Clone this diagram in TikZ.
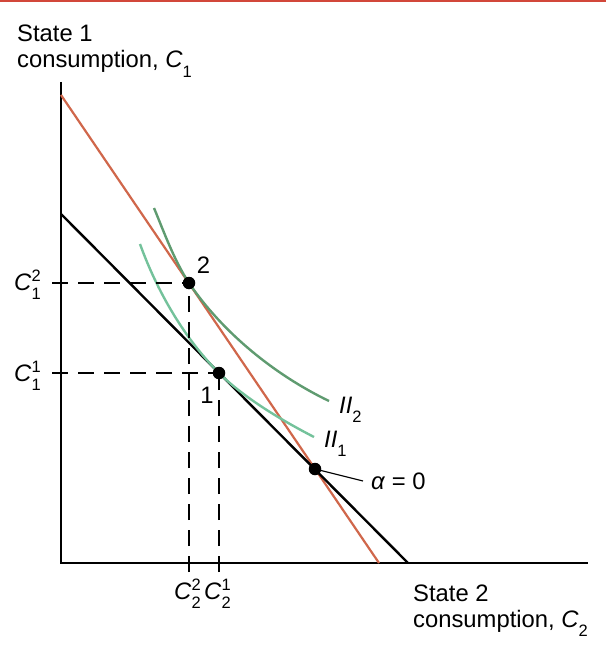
\documentclass[tikz,border=0pt]{standalone}
\usepackage{fontspec}
\setmainfont{Liberation Sans}
\definecolor{budgetred}{HTML}{D0674B}
\definecolor{topred}{HTML}{D2473A}
\definecolor{icdark}{HTML}{5F9B70}
\definecolor{iclight}{HTML}{74C29B}
\newcommand\lblsub[1]{\raisebox{-0.38em}{\fontsize{16.5}{17}\selectfont #1}}
\newcommand\lblsupsub[2]{\rlap{\raisebox{0.36em}{\fontsize{16.5}{17}\selectfont #1}}\raisebox{-0.4em}{\fontsize{16.5}{17}\selectfont #2}}
\tikzset{
  lbl/.style={inner sep=0pt, font=\fontsize{23.8}{27}\selectfont},
  axisline/.style={line width=2.8pt, line join=miter},
  budget/.style={line width=2.4pt},
  guide/.style={line width=1.3pt, dash pattern=on 16pt off 10pt},
  dot/.style={circle, fill=black, inner sep=0pt, minimum size=12.5pt},
  icurve/.style={line width=2.4pt}
}
\begin{document}
\begin{tikzpicture}[x=1pt, y=-1pt]
\useasboundingbox (0,0) rectangle (606,660);
\fill[topred] (0,0) rectangle (606,2.2);

% axes
\coordinate (ytop) at (61,82);
\coordinate (origin) at (61,563);
\coordinate (xend) at (588,563);
\draw[axisline] (ytop) -- (origin) -- (xend);

% budget lines
\coordinate (bA) at (61,214);
\coordinate (bB) at (408,563);
\coordinate (rA) at (61,95);
\coordinate (rB) at (379,563);
\draw[budget, budgetred, line width=2.2pt] (rA) -- (rB);
\draw[budget, black] (bA) -- (bB);

% indifference curves
\coordinate (c2s) at (154,208);
\coordinate (c2e) at (329,401);
\coordinate (c1s) at (140,244);
\coordinate (c1e) at (314,437);
\coordinate (p2c) at (189,283);
\coordinate (p1c) at (219,373);
\draw[icurve, iclight] (c1s) .. controls (157,291) and (184,338) .. (p1c)
   .. controls (244,398) and (283,421) .. (c1e);
\draw[icurve, icdark] (c2s) .. controls (164.4,233) and (174,260) .. (p2c)
   .. controls (223,333) and (275,375) .. (c2e);

% guide lines
\coordinate (t12) at (52,283);
\coordinate (t11) at (52,373);
\coordinate (t22) at (189,572);
\coordinate (t21) at (219,572);
\draw[guide] (t12) -- (p2c);
\draw[guide] (t11) -- (p1c);
\draw[guide] (t22) -- (p2c);
\draw[guide] (t21) -- (p1c);

% points
\node[dot] (p2) at (p2c) {};
\node[dot] (p1) at (p1c) {};
\node[dot] (p0) at (315,469) {};
\coordinate (lead) at (363,481);
\draw[line width=1.2pt] (p0.center) -- (lead);

% labels
\node[lbl, anchor=base west] (s1a) at (17,42) {State 1};
\node[lbl, anchor=base west] (s1b) at (17,68) {consumption, \textit{C}\lblsub{1}};
\node[lbl, anchor=base west] (s2a) at (413,601) {State 2};
\node[lbl, anchor=base west] (s2b) at (413,627) {consumption, \textit{C}\lblsub{2}};
\node[lbl, anchor=base west] (l12) at (14,290) {\textit{C}\lblsupsub{2}{1}};
\node[lbl, anchor=base west] (l11) at (14,381) {\textit{C}\lblsupsub{1}{1}};
\node[lbl, anchor=base west] (l22) at (174,599) {\textit{C}\lblsupsub{2}{2}};
\node[lbl, anchor=base west] (l21) at (204,599) {\textit{C}\lblsupsub{1}{2}};
\node[lbl] (n2) at (203.5,265) {2};
\node[lbl] (n1) at (207,395) {1};
\node[lbl, anchor=base west] (ii2) at (339,413) {\textit{II}\lblsub{2}};
\node[lbl, anchor=base west] (ii1) at (324,447) {\textit{II}\lblsub{1}};
\node[lbl, anchor=base west] (al) at (371,489) {\textit{α} = 0};
\end{tikzpicture}
\end{document}
